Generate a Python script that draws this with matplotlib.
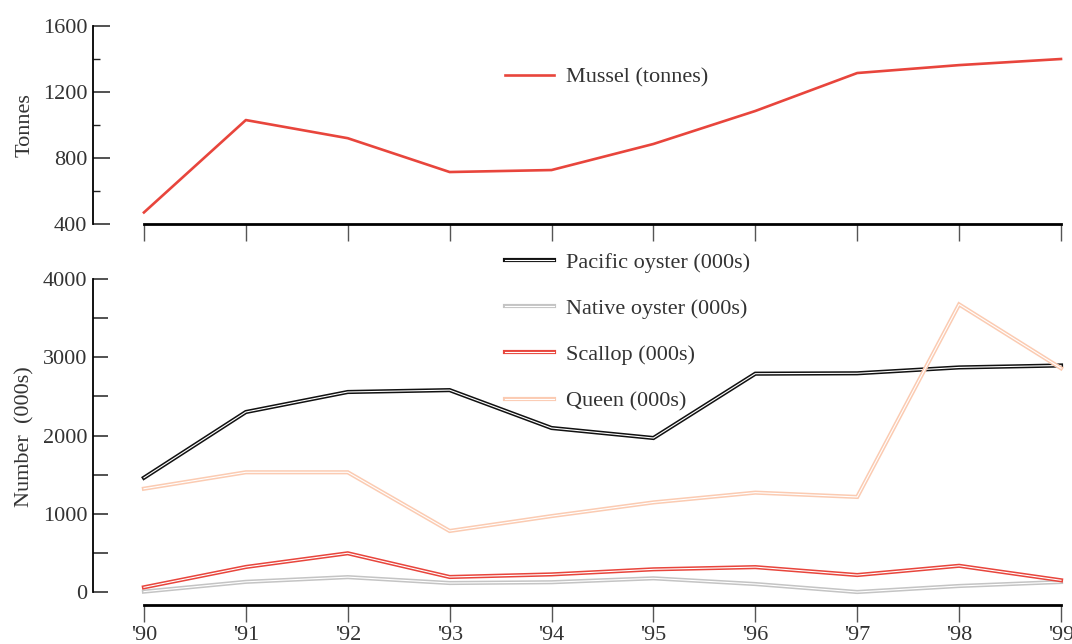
import matplotlib
matplotlib.use("Agg")
import matplotlib.pyplot as plt
from matplotlib.ticker import MultipleLocator

years = ["'90", "'91", "'92", "'93", "'94", "'95", "'96", "'97", "'98", "'99"]
mussel = [470, 1030, 920, 715, 727, 885, 1085, 1315, 1363, 1400]
pacific = [1460, 2300, 2556, 2580, 2096, 1968, 2790, 2795, 2870, 2895]
native = [5, 130, 190, 115, 125, 175, 102, 0, 77, 128]
scallop = [60, 320, 495, 192, 225, 290, 318, 217, 335, 150]
queen = [1320, 1530, 1530, 780, 970, 1145, 1270, 1215, 3675, 2860]

series = [
    ("Pacific oyster (000s)", pacific, "#111111"),
    ("Native oyster (000s)", native, "#c4c4c4"),
    ("Scallop (000s)", scallop, "#e8453c"),
    ("Queen (000s)", queen, "#fbcbb2"),
]

plt.rcParams['font.family'] = ['Liberation Serif', 'DejaVu Serif']
TXT = "#333333"
FS = 16

W, H = 1072, 644
fig = plt.figure(figsize=(W / 100, H / 100), dpi=100)

left = 93 / W
width = (1061 - 93) / W
ax1 = fig.add_axes([left, (H - 224) / H, width, (224 - 26) / H])
ax2 = fig.add_axes([left, (H - 605) / H, width, (605 - 279) / H])

x = list(range(len(years)))

# top panel
ax1.plot(x, mussel, color="#e8453c", lw=1.9, label="Mussel (tonnes)", clip_on=False)
ax1.set_xlim(-0.5, 9)
ax1.set_ylim(400, 1600)
ax1.yaxis.set_major_locator(MultipleLocator(400))
ax1.yaxis.set_minor_locator(MultipleLocator(200))
ax1.tick_params(axis='y', which='major', direction='in', length=12, width=1.1,
                color='#222222', labelsize=FS, labelcolor=TXT, pad=4)
ax1.tick_params(axis='y', which='minor', direction='in', length=5, width=1.0, color='#222222')
ax1.set_xticks(x)
ax1.set_xticklabels([])
ax1.tick_params(axis='x', direction='out', length=12, width=1.0, color='#555555')
ax1.set_ylabel("Tonnes", fontsize=FS, color=TXT)
ax1.yaxis.set_label_coords(-0.06, 0.5)
ax1.legend(loc='center left', bbox_to_anchor=((505 - 93) / 968, (224 - 77) / 198),
           frameon=False, fontsize=FS, handlelength=2.2, handletextpad=0.55,
           labelcolor=TXT, borderaxespad=0, borderpad=0)

# bottom panel
handles = []
labels = []
for name, vals, col in series:
    l1, = ax2.plot(x, vals, color=col, lw=3.0, solid_joinstyle='miter', clip_on=False)
    l2, = ax2.plot(x, vals, color='white', lw=0.8, solid_joinstyle='miter', clip_on=False)
    handles.append((l1, l2))
    labels.append(name)
ax2.set_xlim(-0.5, 9)
ax2.set_ylim(-166, 4000)
ax2.yaxis.set_major_locator(MultipleLocator(1000))
ax2.yaxis.set_minor_locator(MultipleLocator(500))
ax2.tick_params(axis='y', which='both', direction='in', length=11, width=1.1,
                color='#222222', labelsize=FS, labelcolor=TXT, pad=4)
ax2.set_xticks(x)
ax2.set_xticklabels(years)
ax2.tick_params(axis='x', direction='out', length=12, width=1.0, color='#555555',
                labelsize=FS, labelcolor=TXT, pad=3)
ax2.set_ylabel("Number  (000s)", fontsize=FS, color=TXT)
ax2.yaxis.set_label_coords(-0.06, 0.515)
ax2.legend(handles, labels, loc='upper left',
           bbox_to_anchor=((505 - 93) / 968, (605 - 252) / 326),
           frameon=False, fontsize=FS, handlelength=2.2, handletextpad=0.55,
           labelspacing=1.16, labelcolor=TXT, borderaxespad=0, borderpad=0)

for ax, (lo, hi) in ((ax1, (400, 1600)), (ax2, (0, 4000))):
    ax.spines['top'].set_visible(False)
    ax.spines['right'].set_visible(False)
    ax.spines['left'].set_bounds(lo, hi)
    ax.spines['left'].set_linewidth(1.3)
    ax.spines['bottom'].set_bounds(0, 9)
    ax.spines['bottom'].set_linewidth(2.0)
    ax.patch.set_visible(False)

fig.savefig("out.png", dpi=100)
